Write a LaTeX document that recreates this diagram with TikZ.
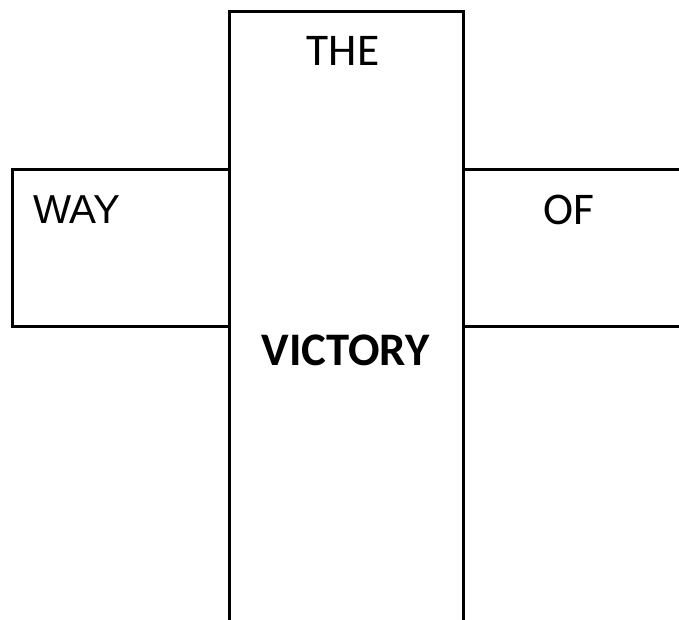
\documentclass[tikz,border=0pt]{standalone}
\usepackage{fontspec}
\setmainfont{Carlito}
\usetikzlibrary{positioning}

\begin{document}
\begin{tikzpicture}[
  x=0.75pt, y=-0.75pt,
  panel/.style={
    rectangle, draw=black, fill=none,
    line width=2pt, inner sep=0pt
  },
  word/.style={
    inner sep=0pt, font=\fontsize{34}{40}\selectfont
  },
  plainword/.style={
    inner sep=0pt, font=\fontspec{Liberation Sans}\fontsize{30.3}{36}\selectfont
  }
]
\useasboundingbox (0,0) rectangle (679,619);
\clip (0,0) rectangle (679,619);
\node[panel, minimum width=217*0.75pt, minimum height=157*0.75pt, anchor=north west] (leftbox) at (11,168) {};
\node[panel, minimum width=238*0.75pt, minimum height=157*0.75pt, anchor=north west] (rightbox) at (462,168) {};
\node[panel, minimum width=234*0.75pt, minimum height=640*0.75pt, anchor=north west] (centerbox) at (228,10) {};

\node[word] (the) at (343,51) {THE};
\node[plainword, anchor=west] (way) at (33,209.5) {WAY};
\node[word] (of) at (569,209.5) {OF};
\node[word, font={\bfseries\fontsize{35}{42}\selectfont}] (victory) at (345.5,350) {VICTORY};
\end{tikzpicture}
\end{document}
